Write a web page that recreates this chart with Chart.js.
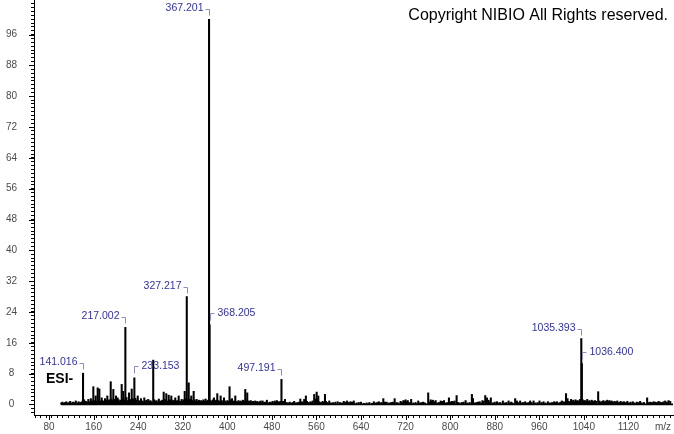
<!DOCTYPE html>
<html>
<head>
<meta charset="utf-8">
<script src="https://cdn.jsdelivr.net/npm/chart.js"></script>
<style>
  body { margin: 0; background: #fff; }
  #wrap { width: 674px; height: 434px; }
</style>
</head>
<body>
<div id="wrap"><canvas id="spectrum" width="674" height="434"></canvas></div>
<script>
// labelled peaks (m/z, relative intensity, side of the label)
const labelMz = [141.016, 217.002, 233.153, 327.217, 367.201, 368.205, 497.191, 1035.393, 1036.400];
const labelIntensity = [8.1, 20.0, 6.9, 28.0, 100, 20.7, 6.5, 17.1, 10.6];
const labelSide = ['left', 'left', 'right', 'left', 'left', 'right', 'left', 'left', 'right'];

// other sticks, [m/z, intensity]
const peaksLow = [
  [102, 0.4], [104, 0.6], [106, 0.3], [108, 0.5], [111, 0.7], [113, 0.4], [116, 0.5], [118, 0.8],
  [121, 0.4], [123, 0.6], [126, 0.5], [128, 0.9], [131, 0.4], [133, 0.7], [136, 0.5], [138, 0.6],
  [140, 0.9], [143, 1.2], [146, 0.8], [148, 0.6], [150.5, 1.3], [152, 0.7], [155, 1.5], [157, 0.9],
  [159.5, 4.6], [161, 1.0], [163.7, 2.2], [165, 0.8], [167.3, 4.3], [169, 1.1], [170.3, 4.0], [172, 0.9],
  [174.5, 1.7], [176, 1.0], [178, 0.8], [180.5, 1.5], [182, 1.1], [184.6, 2.2], [186, 0.9], [188, 1.2],
  [190.7, 5.9], [192, 1.4], [193.5, 1.0], [195.4, 3.9], [197, 1.3], [198.5, 0.9], [200.2, 2.2], [202, 1.0],
  [203.2, 1.7], [205, 1.2], [207, 0.8], [208.5, 1.1], [210.4, 5.2], [212, 1.4], [213.3, 3.4], [215, 1.2],
  [219, 1.8], [221, 1.0], [223.5, 3.0], [225, 1.3], [226.5, 1.1], [228.4, 4.0], [230, 1.5], [231.5, 1.2],
  [235, 1.6], [236.5, 1.1], [239.2, 2.2], [241, 1.0], [243, 0.8], [245, 1.5], [247, 0.9], [249, 0.7],
  [251, 1.7], [253, 0.9], [255, 1.1], [258, 1.3], [260, 0.8], [262, 1.0], [264, 0.7], [267, 11.5],
  [269, 1.2], [271, 0.8], [273, 1.0], [275, 0.6], [277, 1.4], [279, 0.9], [281, 0.8], [283, 1.1],
  [285.8, 3.2], [287.5, 1.3], [289, 1.0], [290.5, 2.8], [292, 0.9], [294.8, 2.4], [296.5, 1.0], [298, 1.2],
  [299.5, 2.2], [301, 0.8], [303, 1.1], [305, 0.9], [306.6, 1.7], [308, 0.8], [310, 1.0], [312.7, 2.2],
  [314, 0.9], [316, 0.8], [318, 1.3], [320, 0.9], [321.5, 1.2], [323.5, 3.4], [325, 1.5], [329, 1.2],
  [330.7, 5.6], [332, 1.1], [333.5, 1.4], [335.4, 2.2], [337, 1.0], [339.6, 3.4], [341, 1.2], [343, 0.9],
  [345, 1.3], [347, 0.8], [349, 1.1], [351, 0.7], [353, 1.0], [355, 0.8], [357, 1.2], [359, 0.9],
  [361, 1.4], [363, 0.8], [365, 1.1], [370, 1.0], [372, 0.8], [374, 1.2], [376, 1.7], [378, 0.9],
  [380, 1.1], [382, 2.8], [384, 1.0], [386, 0.8], [388, 2.2], [390, 1.0], [392, 0.7], [394, 1.7],
  [396, 0.9], [398, 0.6]
];
const peaksMid = [
  [400, 1.0], [402, 0.8], [404, 4.6], [406, 1.2], [408.4, 1.5], [410, 0.7], [412, 0.9], [414.3, 2.2],
  [416, 0.8], [418, 0.6], [420, 1.0], [422, 0.7], [424, 0.9], [426, 0.6], [428, 1.1], [430, 0.8],
  [432.2, 3.9], [434, 1.2], [435.8, 3.0], [438, 0.9], [440, 0.7], [442, 1.0], [444, 0.6], [446, 0.8],
  [448, 0.5], [450, 0.9], [452, 0.6], [454, 0.8], [456, 0.5], [458, 0.7], [460, 0.9], [463.4, 0.9],
  [466, 0.5], [468, 0.6], [471, 1.1], [474, 0.4], [476, 0.6], [478, 0.5], [481, 0.8], [483, 0.5],
  [485, 0.9], [487, 0.6], [489, 1.0], [491, 0.7], [493, 0.5], [495, 0.8], [500, 0.8], [503.5, 1.3],
  [506, 0.5], [509, 0.4], [512, 0.6], [515, 0.4], [518, 0.5], [520, 0.8], [523, 0.4], [526, 0.5],
  [529, 0.6], [531, 1.4], [533, 0.6], [535, 0.7], [538, 1.3], [541, 2.2], [543, 0.8], [546, 0.5],
  [549, 0.7], [551, 0.5], [553, 0.9], [556, 2.6], [558, 1.4], [560.4, 3.2], [562, 1.1], [563.3, 2.2],
  [565, 0.7], [568, 0.5], [571, 0.8], [573, 0.6], [575.3, 2.6], [577, 0.8], [580, 0.5], [583, 0.9],
  [586, 0.4], [590, 0.5], [594, 0.6], [598, 0.7], [602, 0.5], [606, 0.4], [609, 0.8], [612, 0.6],
  [615, 0.9], [618, 0.5], [621, 0.7], [624, 0.6], [627, 0.9], [632, 0.4], [636, 0.5], [640, 0.6],
  [645, 0.3], [650, 0.4], [655, 0.5], [660, 0.3], [663, 0.7], [666, 0.4], [669, 0.5], [672, 0.7],
  [675, 0.4], [677, 0.5], [680, 1.5], [683, 0.6], [686, 0.6], [690, 0.4], [694, 0.5], [697, 0.6],
  [700.4, 1.5], [704, 0.5], [707, 0.4], [711, 0.8], [713, 0.6], [716, 1.0], [718, 0.9], [720, 1.2],
  [722, 0.7], [724, 1.0], [727, 0.5], [730, 1.3], [734, 0.4], [738, 0.5], [742.7, 0.9], [746, 0.4],
  [749, 0.5], [751.6, 0.6], [755, 0.4], [760.6, 3.0], [763, 0.6], [765, 1.2], [767, 0.9], [769, 1.1],
  [772, 0.7], [774, 1.0], [777, 0.4], [780, 0.5], [783, 0.9], [785, 0.7], [787, 0.8], [789, 1.0],
  [792, 0.4], [795, 0.5], [797.8, 1.7]
];
const peaksHigh = [
  [800, 0.6], [803, 0.8], [805, 0.7], [808, 0.9], [811.6, 2.3], [814, 0.5], [817, 0.4], [821, 0.5],
  [824, 0.6], [827.7, 1.0], [831, 0.4], [835, 0.5], [839, 2.6], [841, 1.5], [844, 0.4], [847, 0.5],
  [850, 0.6], [853, 0.7], [856, 0.4], [858, 1.0], [860, 0.8], [863, 2.3], [866, 1.7], [869, 1.1],
  [871, 0.6], [873, 1.7], [877, 0.4], [880, 0.6], [884, 0.7], [887, 0.4], [890, 0.5], [894.6, 0.9],
  [898, 0.4], [901, 0.5], [904.8, 0.9], [907, 0.4], [909.5, 0.6], [912, 0.4], [916.7, 1.5], [919.7, 0.9],
  [922, 0.5], [925.6, 0.9], [928, 0.4], [931, 0.5], [934.6, 0.7], [938, 0.4], [941, 0.5], [943.6, 0.9],
  [946, 0.5], [949.7, 0.9], [953, 0.4], [957, 0.5], [960.4, 0.9], [964, 0.5], [967.6, 0.7], [971, 0.4],
  [975.4, 0.7], [979, 0.4], [983, 0.5], [986.6, 0.7], [989, 0.5], [991.5, 0.7], [995, 0.4], [998, 0.6],
  [1000.5, 0.9], [1003.5, 0.7], [1006, 0.6], [1008, 2.8], [1010.7, 1.5], [1013, 0.8], [1015, 0.6], [1017, 1.3],
  [1019, 0.9], [1021, 1.1], [1023, 0.7], [1025, 1.2], [1027, 0.9], [1029, 1.0], [1031, 0.8], [1033, 1.3],
  [1038, 1.2], [1040, 0.9], [1042, 1.0], [1044, 0.7], [1046, 1.3], [1048, 0.8], [1050, 1.0], [1052, 0.6],
  [1054, 1.1], [1056, 0.9], [1058, 0.7], [1060, 1.0], [1062, 0.8], [1065.7, 3.3], [1068, 0.9], [1070, 0.6],
  [1073, 0.8], [1075, 1.0], [1077, 0.7], [1080, 0.9], [1082, 1.1], [1084, 0.8], [1086, 1.0], [1088, 0.7],
  [1090, 0.9], [1092, 0.6], [1095, 0.8], [1098, 0.7], [1100, 0.9], [1103, 0.5], [1106, 0.8], [1109, 0.6],
  [1112, 0.7], [1115, 0.5], [1118, 0.8], [1121, 0.4], [1124, 0.6], [1128, 0.7], [1131, 0.4], [1135, 0.6],
  [1138, 0.5], [1141, 0.8], [1144, 0.4], [1148, 0.5], [1153.6, 1.7], [1156, 0.5], [1159, 0.6], [1162, 0.5],
  [1165, 0.7], [1168, 0.6], [1171, 0.5], [1174, 0.8], [1177, 0.6], [1180, 0.5], [1183, 0.7], [1186, 0.9],
  [1189, 0.6], [1192, 1.0], [1195, 0.8]
];

// axes
const xTickLabels = [80, 160, 240, 320, 400, 480, 560, 640, 720, 800, 880, 960, 1040, 1120];
const yTickLabels = [0, 8, 16, 24, 32, 40, 48, 56, 64, 72, 80, 88, 96];
const xRange = [53, 1200];
const yRange = [-2.75, 105];
const baselineRange = [101, 1200];

const FONT = '"Liberation Sans", Arial, sans-serif';
Chart.defaults.font.family = FONT;

const sticks = labelMz.map((m, i) => ({ x: m, y: labelIntensity[i] }))
  .concat([...peaksLow, ...peaksMid, ...peaksHigh].map(p => ({ x: p[0], y: p[1] })))
  .sort((a, b) => a.x - b.x);

// minor tick marks: every 10 on m/z, every 1 on intensity
const xMinor = [];
for (let v = 60; v <= xRange[1]; v += 10) xMinor.push(v);
const yMinor = [];
for (let v = -2; v <= 104; v++) yMinor.push(v);

const peakLabels = {
  id: 'peakLabels',
  afterDraw(chart) {
    const { ctx, scales: { x, y } } = chart;
    ctx.save();

    // longer ticks at the labelled values
    ctx.strokeStyle = '#000';
    ctx.lineWidth = 1;
    ctx.beginPath();
    xTickLabels.forEach(v => {
      const px = Math.round(x.getPixelForValue(v)) + 0.5;
      ctx.moveTo(px, x.top); ctx.lineTo(px, x.top + 5);
    });
    yTickLabels.forEach(v => {
      const py = Math.round(y.getPixelForValue(v)) + 0.5;
      ctx.moveTo(y.right - 5, py); ctx.lineTo(y.right, py);
    });
    ctx.stroke();

    // peak annotations with bracket connectors
    ctx.font = '10.5px ' + FONT;
    ctx.textBaseline = 'middle';
    labelMz.forEach((m, i) => {
      const px = Math.round(x.getPixelForValue(m)) + 0.5;
      const top = y.getPixelForValue(labelIntensity[i]);
      ctx.strokeStyle = '#8c8cc0';
      ctx.fillStyle = '#33339a';
      ctx.beginPath();
      if (labelSide[i] === 'left') {
        const yb = Math.round(top - 10) + 0.5;
        ctx.moveTo(px - 4, yb); ctx.lineTo(px, yb); ctx.lineTo(px, yb + 6);
        ctx.stroke();
        ctx.textAlign = 'right';
        ctx.fillText(m.toFixed(3), px - 6, yb - 1);
      } else {
        const yb = Math.round(top - 12) + 0.5;
        ctx.moveTo(px, yb + 7); ctx.lineTo(px, yb); ctx.lineTo(px + 4, yb);
        ctx.stroke();
        ctx.textAlign = 'left';
        ctx.fillText(m.toFixed(3), px + 7, yb);
      }
    });

    // other texts
    ctx.textBaseline = 'alphabetic';
    ctx.fillStyle = '#000';
    ctx.font = '16px ' + FONT;
    ctx.textAlign = 'right';
    ctx.fillText('Copyright NIBIO All Rights reserved.', 668, 20);
    ctx.font = 'bold 14px ' + FONT;
    ctx.textAlign = 'left';
    ctx.fillText('ESI-', 46, 383);
    ctx.font = '10px ' + FONT;
    ctx.fillStyle = '#4a4a4a';
    ctx.textAlign = 'center';
    ctx.textBaseline = 'middle';
    ctx.fillText('m/z', 663, x.top + 12);
    ctx.restore();
  }
};

new Chart(document.getElementById('spectrum'), {
  type: 'bar',
  data: {
    datasets: [
      {
        type: 'line',
        data: baselineRange.map(v => ({ x: v, y: 0 })),
        borderColor: '#000',
        borderWidth: 1.6,
        pointRadius: 0
      },
      {
        data: sticks,
        backgroundColor: '#000',
        borderWidth: 0,
        barThickness: 1.4,
        grouped: false
      }
    ]
  },
  options: {
    responsive: false,
    animation: false,
    layout: { padding: { left: 0, right: 1, top: 0, bottom: 0 } },
    plugins: { legend: { display: false }, tooltip: { enabled: false } },
    scales: {
      x: {
        type: 'linear',
        offset: false,
        min: xRange[0],
        max: xRange[1],
        border: { display: true, color: '#000', width: 1 },
        grid: { drawOnChartArea: false, drawTicks: true, tickLength: 3, tickColor: '#000' },
        afterBuildTicks: s => { s.ticks = xMinor.map(v => ({ value: v })); },
        afterFit: s => { s.height = 19; s.paddingLeft = 0; s.paddingRight = 0; },
        ticks: {
          autoSkip: false,
          maxRotation: 0,
          padding: 3,
          color: '#4a4a4a',
          font: { size: 10 },
          callback: v => xTickLabels.includes(v) ? String(v) : ''
        }
      },
      y: {
        type: 'linear',
        min: yRange[0],
        max: yRange[1],
        border: { display: true, color: '#000', width: 1 },
        grid: { drawOnChartArea: false, drawTicks: true, tickLength: 3, tickColor: '#000' },
        afterBuildTicks: s => { s.ticks = yMinor.map(v => ({ value: v })); },
        afterFit: s => { s.width = 34; s.paddingTop = 0; s.paddingBottom = 0; },
        ticks: {
          autoSkip: false,
          crossAlign: 'center',
          padding: 14,
          color: '#4a4a4a',
          font: { size: 10 },
          callback: v => yTickLabels.includes(v) ? String(v) : ''
        }
      }
    }
  },
  plugins: [peakLabels]
});
</script>
</body>
</html>
